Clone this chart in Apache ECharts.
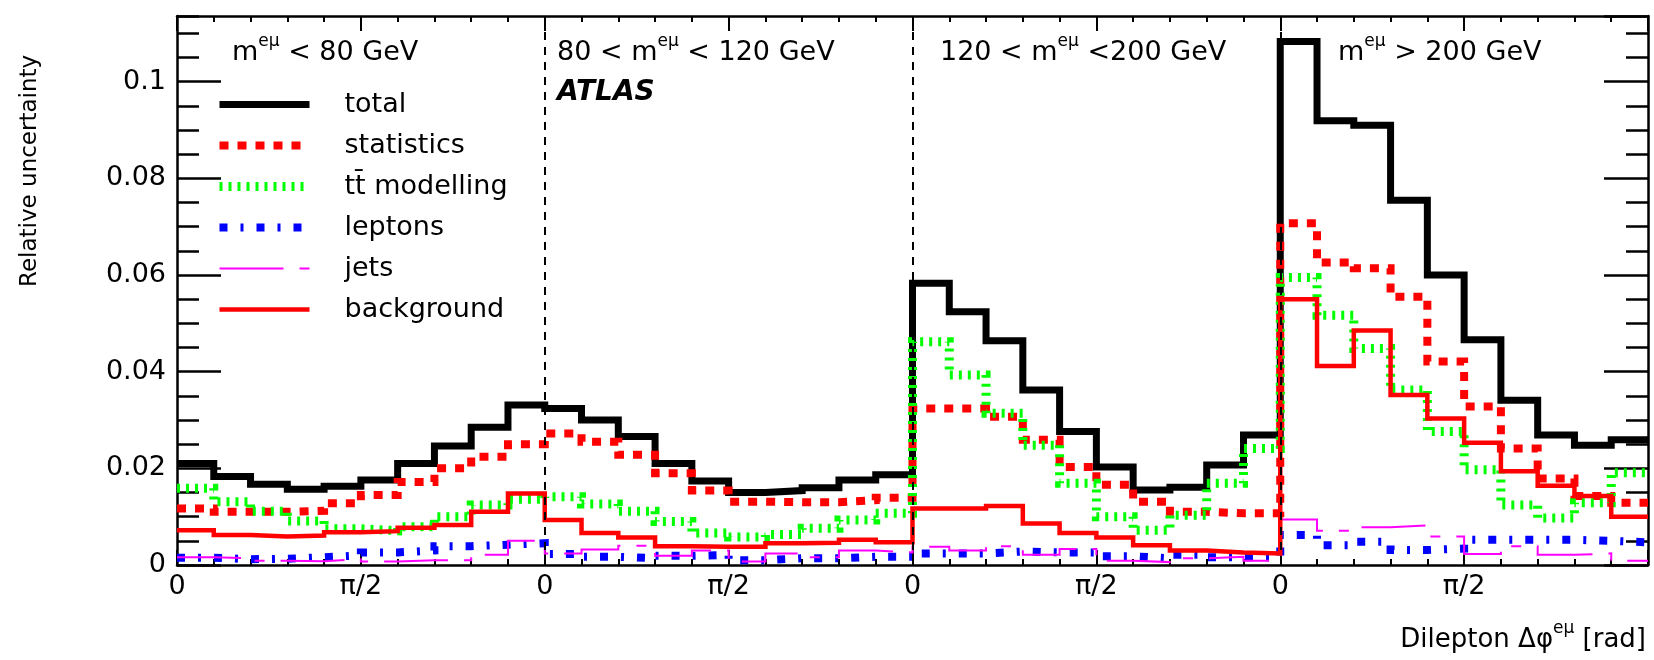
<!DOCTYPE html>
<html>
<head>
<meta charset="utf-8">
<script src="https://cdn.jsdelivr.net/npm/echarts@6/dist/echarts.min.js"></script>
<style>
  html, body { margin: 0; padding: 0; background: #fff; }
  #chart { width: 1654px; height: 660px; }
</style>
</head>
<body>
<div id="chart"></div>
<script>
// Relative uncertainties per Δφ bin, four m(eμ) slices of 10 bins each (0..π)
const binsPerRegion = 10;

const total = [
  0.0210, 0.0183, 0.0167, 0.0157, 0.0163, 0.0176, 0.0210, 0.0246, 0.0285, 0.0331,
  0.0324, 0.0300, 0.0266, 0.0210, 0.0174, 0.0150, 0.0154, 0.0160, 0.0176, 0.0187,
  0.0583, 0.0524, 0.0464, 0.0362, 0.0276, 0.0203, 0.0155, 0.0161, 0.0207, 0.0269,
  0.1083, 0.0919, 0.0910, 0.0755, 0.0600, 0.0466, 0.0341, 0.0269, 0.0248, 0.0259
];
const statistics = [
  0.0117, 0.0110, 0.0110, 0.0112, 0.0128, 0.0145, 0.0172, 0.0200, 0.0224, 0.0250,
  0.0272, 0.0255, 0.0228, 0.0190, 0.0154, 0.0131, 0.0130, 0.0130, 0.0134, 0.0139,
  0.0324, 0.0324, 0.0307, 0.0259, 0.0203, 0.0166, 0.0131, 0.0110, 0.0107, 0.0107,
  0.0707, 0.0626, 0.0614, 0.0555, 0.0421, 0.0328, 0.0241, 0.0179, 0.0143, 0.0129
];
const ttModelling = [
  0.0159, 0.0131, 0.0111, 0.0091, 0.0075, 0.0071, 0.0079, 0.0100, 0.0124, 0.0136,
  0.0141, 0.0126, 0.0111, 0.0090, 0.0066, 0.0058, 0.0063, 0.0076, 0.0093, 0.0107,
  0.0462, 0.0393, 0.0314, 0.0248, 0.0169, 0.0100, 0.0072, 0.0103, 0.0169, 0.0241,
  0.0595, 0.0517, 0.0448, 0.0362, 0.0276, 0.0197, 0.0124, 0.0097, 0.0129, 0.0191
];
const leptons = [
  0.0015, 0.0012, 0.0013, 0.0016, 0.0020, 0.0026, 0.0030, 0.0039, 0.0042, 0.0045,
  0.0023, 0.0017, 0.0014, 0.0019, 0.0021, 0.0010, 0.0014, 0.0014, 0.0017, 0.0017,
  0.0024, 0.0024, 0.0028, 0.0026, 0.0026, 0.0018, 0.0014, 0.0021, 0.0016, 0.0016,
  0.0062, 0.0041, 0.0048, 0.0031, 0.0034, 0.0052, 0.0052, 0.0052, 0.0050, 0.0047
];
const jets = [
  0.0016, 0.0014, 0.0009, 0.0008, 0.0012, 0.0007, 0.0010, 0.0010, 0.0021, 0.0050,
  0.0024, 0.0032, 0.0040, 0.0019, 0.0030, 0.0007, 0.0024, 0.0016, 0.0030, 0.0026,
  0.0038, 0.0030, 0.0039, 0.0021, 0.0033, 0.0009, 0.0006, 0.0014, 0.0017, 0.0009,
  0.0094, 0.0071, 0.0078, 0.0082, 0.0059, 0.0023, 0.0039, 0.0021, 0.0024, 0.0009
];
const background = [
  0.0072, 0.0062, 0.0059, 0.0061, 0.0068, 0.0070, 0.0077, 0.0083, 0.0110, 0.0148,
  0.0093, 0.0066, 0.0057, 0.0039, 0.0038, 0.0038, 0.0045, 0.0046, 0.0052, 0.0047,
  0.0117, 0.0117, 0.0122, 0.0086, 0.0066, 0.0057, 0.0041, 0.0030, 0.0026, 0.0024,
  0.0550, 0.0412, 0.0485, 0.0352, 0.0303, 0.0253, 0.0194, 0.0164, 0.0143, 0.0100
];

// Mass-slice captions (rich text: m with superscript eμ)
const regionLabels = [
  '{n|m}{s|eμ}{n| < 80 GeV}',
  '{n|80 < m}{s|eμ}{n| < 120 GeV}',
  '{n|120 < m}{s|eμ}{n| <200 GeV}',
  '{n|m}{s|eμ}{n| > 200 GeV}'
];
const xTickLabels = { start: '0', mid: 'π/2' };
const yMajorStep = 0.02;
const yMinorStep = 0.005;
const yMax = 0.1136;

const FONT = 'DejaVu Sans';
const nBins = total.length;
const regionEdges = [];
for (let r = 1; r < nBins / binsPerRegion; r++) regionEdges.push(r * binsPerRegion);

// histogram outline: value at each bin's left edge, closed at the last edge
function stepData(vals) {
  const d = vals.map((v, i) => [i, v]);
  d.push([vals.length, vals[vals.length - 1]]);
  return d;
}

const seriesDefs = [
  { name: 'total',        values: total,       color: '#000000', width: 7,   type: 'solid' },
  { name: 'statistics',   values: statistics,  color: '#ff0000', width: 8,   type: [9, 9] },
  { name: 'tt̄ modelling', values: ttModelling, color: '#00ff00', width: 9,   type: [3, 6] },
  { name: 'leptons',      values: leptons,     color: '#0000ff', width: 8,   type: [8, 13, 3, 13] },
  { name: 'jets',         values: jets,        color: '#ff00ff', width: 2,   type: [64, 16, 10, 16] },
  { name: 'background',   values: background,  color: '#ff0000', width: 4.5, type: 'solid' }
];

const series = seriesDefs.map((s, idx) => {
  const out = {
    name: s.name,
    type: 'line',
    step: 'end',
    xAxisIndex: 0,
    yAxisIndex: 0,
    symbol: 'none',
    showSymbol: false,
    clip: true,
    silent: true,
    animation: false,
    data: stepData(s.values),
    itemStyle: { color: s.color },
    lineStyle: { color: s.color, width: s.width, type: s.type, cap: 'butt', join: 'miter' }
  };
  if (idx === 0) {
    out.markLine = {
      silent: true,
      animation: false,
      symbol: ['none', 'none'],
      label: { show: false },
      lineStyle: { color: '#000', width: 2, type: [8, 7] },
      data: regionEdges.map(x => ({ xAxis: x }))
    };
  }
  return out;
});

const axisLineStyle = { color: '#000', width: 2.5 };

function xAxisDef(position, showLabels) {
  return {
    type: 'value',
    position: position,
    min: 0,
    max: nBins,
    interval: binsPerRegion / 2,
    axisLine: { show: true, onZero: false, lineStyle: axisLineStyle },
    axisTick: { show: true, inside: true, length: 15, lineStyle: { color: '#000', width: 2 } },
    minorTick: { show: true, splitNumber: binsPerRegion / 2, length: 6, lineStyle: { color: '#000', width: 2 } },
    splitLine: { show: false },
    minorSplitLine: { show: false },
    axisLabel: {
      show: showLabels,
      margin: 8,
      color: '#000',
      fontFamily: FONT,
      fontSize: 27,
      showMaxLabel: false,
      formatter: v => {
        const r = Math.round(v) % binsPerRegion;
        if (v >= nBins) return '';
        return r === 0 ? xTickLabels.start : (r === binsPerRegion / 2 ? xTickLabels.mid : '');
      }
    }
  };
}

function yAxisDef(position, step, tickLen, showLine, showLabels) {
  return {
    type: 'value',
    position: position,
    min: 0,
    max: yMax,
    interval: step,
    axisLine: { show: showLine, onZero: false, lineStyle: axisLineStyle },
    axisTick: { show: true, inside: true, length: tickLen, lineStyle: { color: '#000', width: 2.5 } },
    splitLine: { show: false },
    axisLabel: {
      show: showLabels,
      margin: 11,
      color: '#000',
      fontFamily: FONT,
      fontSize: 27,
      showMaxLabel: false,
      formatter: v => {
        const k = Math.round(v / yMajorStep);
        return Math.abs(v - k * yMajorStep) < 1e-9 ? String(+(k * yMajorStep).toFixed(2)) : '';
      }
    }
  };
}

function textEl(x, y, text, style) {
  return {
    type: 'text',
    x: x,
    y: y,
    silent: true,
    style: Object.assign({ text: text, fill: '#000', fontFamily: FONT }, style)
  };
}

const supRich = {
  n: { fontFamily: FONT, fontSize: 27, lineHeight: 40, fill: '#000' },
  s: { fontFamily: FONT, fontSize: 17, lineHeight: 17, verticalAlign: 'top', fill: '#000' }
};
const captionX = [232, 557, 940, 1338];

const graphic = [];
regionLabels.forEach((t, i) => {
  graphic.push(textEl(captionX[i], 53, t, { rich: supRich, align: 'left', verticalAlign: 'middle' }));
});
graphic.push(textEl(557, 93, 'ATLAS', {
  fontSize: 28, fontWeight: 'bold', fontStyle: 'italic', align: 'left', verticalAlign: 'middle'
}));
graphic.push(Object.assign(textEl(30, 287, 'Relative uncertainty', {
  fontSize: 23, align: 'left', verticalAlign: 'middle'
}), { rotation: Math.PI / 2 }));
graphic.push(textEl(1646, 640, '{n|Dilepton Δφ}{s|eμ}{n| [rad]}', {
  align: 'right', verticalAlign: 'middle',
  rich: {
    n: { fontFamily: FONT, fontSize: 26, lineHeight: 40, fill: '#000' },
    s: { fontFamily: FONT, fontSize: 17, lineHeight: 17, verticalAlign: 'top', fill: '#000' }
  }
}));

const option = {
  animation: false,
  backgroundColor: '#ffffff',
  grid: {
    left: 177, right: 6, top: 16, bottom: 95,
    containLabel: false,
    outerBoundsMode: 'none',
    show: false
  },
  legend: {
    orient: 'vertical',
    left: 215,
    top: 91,
    padding: 0,
    itemWidth: 90,
    itemHeight: 20,
    itemGap: 14,
    selectedMode: false,
    textStyle: { fontFamily: FONT, fontSize: 27, color: '#000', lineHeight: 27, padding: [0, 0, 0, 30] },
    data: seriesDefs.map(s => ({
      name: s.name,
      itemStyle: { opacity: 0 },
      lineStyle: { color: s.color, width: s.width, type: s.type, cap: 'butt' }
    }))
  },
  xAxis: [xAxisDef('bottom', true), xAxisDef('top', false)],
  yAxis: [
    yAxisDef('left', yMajorStep, 44, true, true),
    yAxisDef('left', yMinorStep, 22, false, false),
    yAxisDef('right', yMajorStep, 44, true, false),
    yAxisDef('right', yMinorStep, 22, false, false)
  ],
  series: series,
  graphic: graphic
};

const chart = echarts.init(document.getElementById('chart'), null, { renderer: 'canvas' });
chart.setOption(option);
</script>
</body>
</html>
